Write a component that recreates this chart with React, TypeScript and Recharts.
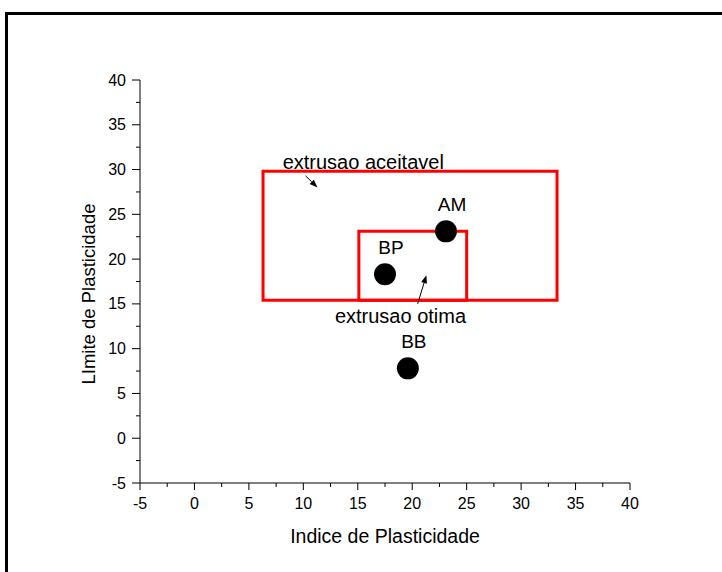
import React from 'react';
import { ScatterChart, Scatter, XAxis, YAxis, ReferenceArea, ReferenceLine, ReferenceDot, Label } from 'recharts';

const samples = ['AM', 'BP', 'BB'];
const indiceValues = [23.1, 17.5, 19.6];
const limiteValues = [23.1, 18.3, 7.8];

const tickValues = [-5, -2.5, 0, 2.5, 5, 7.5, 10, 12.5, 15, 17.5, 20, 22.5, 25, 27.5, 30, 32.5, 35, 37.5, 40];

const zoneNames = ['extrusao aceitavel', 'extrusao otima'];
const zoneX1 = [6.3, 15.1];
const zoneX2 = [33.3, 25.0];
const zoneY1 = [15.4, 15.4];
const zoneY2 = [29.8, 23.1];

const noteX = [8.1, 12.9];
const noteY = [30.8, 13.6];
const arrowFromX = [10.2, 20.5];
const arrowFromY = [29.3, 15.0];
const arrowToX = [11.3, 21.3];
const arrowToY = [28.0, 18.2];

const data = samples.map((name, i) => ({ name, x: indiceValues[i], y: limiteValues[i] }));

const FONT = 'Arial, "Liberation Sans", sans-serif';

const XTick = (props: any) => {
  const { x, y, payload } = props;
  const v = payload.value;
  const major = v % 5 === 0;
  return (
    <g>
      <line x1={x} y1={y} x2={x} y2={y + (major ? 7 : 4)} stroke="#000" strokeWidth={1} />
      {major && (
        <text x={x} y={y + 20} textAnchor="middle" dominantBaseline="central" fontSize={16} fontFamily={FONT} fill="#000">
          {v}
        </text>
      )}
    </g>
  );
};

const YTick = (props: any) => {
  const { x, y, payload } = props;
  const v = payload.value;
  const major = v % 5 === 0;
  return (
    <g>
      <line x1={x} y1={y} x2={x - (major ? 8 : 4)} y2={y} stroke="#000" strokeWidth={1} />
      {major && (
        <text x={x - 14} y={y} textAnchor="end" dominantBaseline="central" fontSize={16} fontFamily={FONT} fill="#000">
          {v}
        </text>
      )}
    </g>
  );
};

const Arrow = (props: any) => {
  const { x1, y1, x2, y2 } = props;
  const ang = Math.atan2(y2 - y1, x2 - x1);
  const L = 8;
  const W = 3;
  const bx = x2 - L * Math.cos(ang);
  const by = y2 - L * Math.sin(ang);
  const px = -Math.sin(ang) * W;
  const py = Math.cos(ang) * W;
  return (
    <g>
      <line x1={x1} y1={y1} x2={bx} y2={by} stroke="#000" strokeWidth={1} />
      <polygon points={`${x2},${y2} ${bx + px},${by + py} ${bx - px},${by - py}`} fill="#000" />
    </g>
  );
};

const DotShape = (props: any) => {
  const { cx, cy, payload } = props;
  return (
    <g>
      <circle cx={cx} cy={cy} r={11} fill="#000" />
      <text x={cx + 6} y={cy - 27} textAnchor="middle" dominantBaseline="central" fontSize={19} fontFamily={FONT} fill="#000">
        {payload.name}
      </text>
    </g>
  );
};

export default function App() {
  return (
    <div style={{ position: 'absolute', left: 0, top: 0, width: 722, height: 572, overflow: 'hidden', background: '#fff' }}>
      <div
        style={{
          position: 'absolute',
          left: 5,
          top: 12,
          width: 800,
          height: 700,
          borderTop: '3px solid #000',
          borderLeft: '3px solid #000',
        }}
      />
      <div style={{ position: 'absolute', left: 0, top: 0 }}>
        <ScatterChart width={722} height={572} margin={{ top: 80, right: 92, bottom: 0, left: 0 }}>
          <XAxis
            type="number"
            dataKey="x"
            domain={[-5, 40]}
            ticks={tickValues}
            interval={0}
            height={89}
            tickSize={0}
            tickMargin={0}
            tickLine={false}
            tick={<XTick />}
            axisLine={{ stroke: '#000', strokeWidth: 1 }}
            allowDataOverflow
          >
            <Label
              content={(p: any) => {
                const vb = p.viewBox;
                return (
                  <text x={vb.x + vb.width / 2} y={vb.y + 53} textAnchor="middle" dominantBaseline="central" fontSize={19.5} fontFamily={FONT} fill="#000">
                    Indice de Plasticidade
                  </text>
                );
              }}
            />
          </XAxis>
          <YAxis
            type="number"
            dataKey="y"
            domain={[-5, 40]}
            ticks={tickValues}
            interval={0}
            width={140}
            tickSize={0}
            tickMargin={0}
            tickLine={false}
            tick={<YTick />}
            axisLine={{ stroke: '#000', strokeWidth: 1 }}
            allowDataOverflow
          >
            <Label
              content={() => {
                const cx = 88;
                const cy = 294;
                return (
                  <text x={cx} y={cy} transform={`rotate(-90, ${cx}, ${cy})`} textAnchor="middle" dominantBaseline="central" fontSize={18.5} fontFamily={FONT} fill="#000">
                    LImite de Plasticidade
                  </text>
                );
              }}
            />
          </YAxis>
          {zoneNames.map((n, i) => (
            <ReferenceArea
              key={n}
              x1={zoneX1[i]}
              x2={zoneX2[i]}
              y1={zoneY1[i]}
              y2={zoneY2[i]}
              fill="none"
              fillOpacity={0}
              stroke="#ff0000"
              strokeWidth={3}
              ifOverflow="visible"
            />
          ))}
          {zoneNames.map((n, i) => (
            <ReferenceLine
              key={'a' + n}
              segment={[
                { x: arrowFromX[i], y: arrowFromY[i] },
                { x: arrowToX[i], y: arrowToY[i] },
              ]}
              ifOverflow="visible"
              shape={(p: any) => <Arrow {...p} />}
            />
          ))}
          {zoneNames.map((n, i) => (
            <ReferenceDot
              key={'t' + n}
              x={noteX[i]}
              y={noteY[i]}
              r={0}
              ifOverflow="visible"
              shape={(p: any) => (
                <text x={p.cx} y={p.cy} textAnchor="start" dominantBaseline="central" fontSize={20} fontFamily={FONT} fill="#000">
                  {n}
                </text>
              )}
            />
          ))}
          <Scatter data={data} isAnimationActive={false} shape={(p: any) => <DotShape {...p} />} />
        </ScatterChart>
      </div>
    </div>
  );
}
